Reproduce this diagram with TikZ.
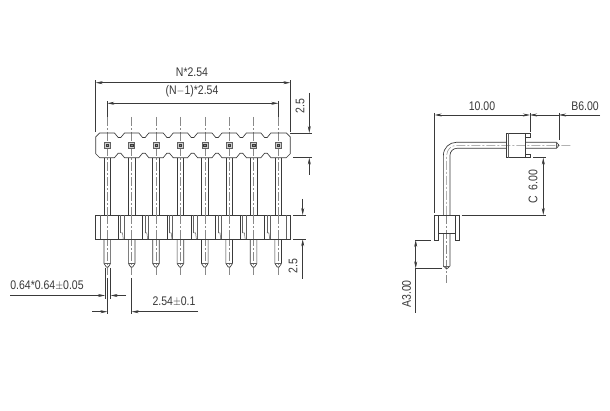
\documentclass[tikz,border=0pt]{standalone}
\usepackage{fontspec}
\usepackage{graphicx}
\setmainfont{Liberation Sans}
\usetikzlibrary{arrows.meta}
\definecolor{ink}{HTML}{3A3A3A}
\tikzset{
  obj/.style={draw=ink,line width=0.65pt},
  thin obj/.style={draw=ink!80,line width=0.5pt},
  dimline/.style={draw=ink,line width=0.55pt},
  center line/.style={draw=ink!60,line width=0.5pt,dash pattern=on 9pt off 2pt on 2pt off 2pt},
  dimarrow/.style={-{Stealth[length=7pt,width=3pt]}},
  lbl/.style={inner sep=0pt,text=ink,font=\fontsize{12.5}{13}\selectfont},
}
\newcommand{\txt}[1]{\scalebox{0.84}[1]{#1}}
\begin{document}
\begin{tikzpicture}[x=1pt,y=-1pt]
\useasboundingbox[fill=white] (0,0) rectangle (610,411);
% ---------- front view: pins
\foreach \p in {107.3,131.7,156,180.4,204.8,229.2,253.6,278.2}{
  \draw[center line] (\p,117) -- (\p,275);
  \draw[obj] (\p-3.3,157.7) -- (\p-3.3,215) (\p+3.3,157.7) -- (\p+3.3,215);
  \draw[obj] (\p-3.3,239.3) -- (\p-3.3,263.5) -- (\p-1,267) -- (\p+1,267) -- (\p+3.3,263.5) -- (\p+3.3,239.3);
  \draw[thin obj] (\p-3.3,263.5) -- (\p+3.3,263.5);
  \draw[thin obj,fill=ink!25] (\p-3,142) rectangle (\p+3,148);
  \draw[ink,fill=ink!60,line width=0.3pt] (\p-1.2,143.8) rectangle (\p+1.2,146.2);
}
% upper body with notches
\draw[obj,fill=none] (95.7,137) -- (99.7,133)
  \foreach \m in {119.5,143.85,168.2,192.6,217,241.4,265.9}{
    -- (\m-5,133) -- (\m-1.3,137.5) -- (\m+1.3,137.5) -- (\m+5,133)
  }
  -- (286.3,133) -- (290.3,137) -- (290.3,153.7) -- (286.3,157.7)
  \foreach \m in {265.9,241.4,217,192.6,168.2,143.85,119.5}{
    -- (\m+5,157.7) -- (\m+1.3,153.2) -- (\m-1.3,153.2) -- (\m-5,157.7)
  }
  -- (99.7,157.7) -- (95.7,153.7) -- cycle;
% lower body
\draw[obj,fill=white] (95.7,215) rectangle (290.3,239.3);
\draw[thin obj] (100,215) -- (100,239.3) (286.5,215) -- (286.5,239.3);
\foreach \b in {119.5,143.85,168.2,192.6,217,241.4,265.9}{
  \draw[obj] (\b-1.2,215) -- (\b-1.2,239.3);
  \draw[thin obj] (\b+1,215) -- (\b+1,233);
  \draw[thin obj] (\b+1,233) -- (\b+3,233) -- (\b+3.8,239.3);
  \draw[thin obj] (\b+4.5,215) -- (\b+4.5,239.3);
}
\foreach \p in {107.3,131.7,156,180.4,204.8,229.2,253.6,278.2}{
  \draw[center line] (\p,215) -- (\p,239.3);
}
% ---------- front view: dimensions
\draw[dimline] (95.7,132) -- (95.7,80) (290.3,132) -- (290.3,80);
\draw[dimline,{Stealth[length=7pt,width=3pt]}-{Stealth[length=7pt,width=3pt]}] (95.7,82.7) -- (290.3,82.7);
\node[lbl] (n254) at (192,72) {\txt{N*2.54}};
\draw[dimline] (107.3,117) -- (107.3,101) (278.2,117) -- (278.2,101);
\draw[dimline,{Stealth[length=7pt,width=3pt]}-{Stealth[length=7pt,width=3pt]}] (107.3,103.3) -- (278.2,103.3);
\node[lbl] (n1254) at (192,91) {\txt{(N$-$1)*2.54}};
\draw[dimline] (290.3,133) -- (312,133) (293,157.7) -- (312,157.7);
\draw[dimline,dimarrow] (309.3,93) -- (309.3,133);
\draw[dimline,dimarrow] (309.3,175) -- (309.3,157.7);
\node[lbl,rotate=90] (d25a) at (300,106) {\txt{2.5}};
\draw[dimline] (293,215) -- (306,215) (293,239.3) -- (306,239.3);
\draw[dimline,dimarrow] (302.7,199) -- (302.7,215);
\draw[dimline,dimarrow] (302.7,279) -- (302.7,239.3);
\node[lbl,rotate=90] (d25b) at (293,266) {\txt{2.5}};
\draw[dimline] (105,268) -- (105,299) (110.7,268) -- (110.7,299);
\draw[dimline,dimarrow] (10,295.5) -- (105,295.5);
\draw[dimline,dimarrow] (126,295.5) -- (110.7,295.5);
\node[lbl] (d064) at (47,286) {\txt{0.64*0.64$\pm$0.05}};
\draw[dimline] (107.3,278) -- (107.3,314) (131.7,278) -- (131.7,314);
\draw[dimline,dimarrow] (92,311.7) -- (107.3,311.7);
\draw[dimline,dimarrow] (198,311.7) -- (131.7,311.7);
\node[lbl] (d254) at (174,302) {\txt{2.54$\pm$0.1}};
% ---------- side view: pin
\draw[center line] (446.7,215) -- (446.7,155.3) .. controls (446.7,149.8) and (451.2,145.3) .. (456.7,145.3) -- (571.7,145.3);
\draw[center line] (446.7,215) -- (446.7,282.7);
\draw[obj] (443.4,215) -- (443.4,155.3) .. controls (443.4,148) and (449.2,142.3) .. (456.4,142.3) -- (506,142.3);
\draw[obj] (450,215) -- (450,155.3) .. controls (450,151.5) and (453.1,148.3) .. (457,148.3) -- (506,148.3);
\draw[obj] (525,142.3) -- (556.5,142.3) -- (559,145.3) -- (556.5,148.3) -- (525,148.3);
\draw[thin obj] (556.5,142.3) -- (556.5,148.3);
% plastic, horizontal
\draw[obj] (525,137.7) -- (530.7,137.7) -- (530.7,133.3) -- (506,133.3) -- (506,157.7) -- (530.7,157.7) -- (530.7,154.3) -- (525,154.3);
\draw[obj] (525,133.3) -- (525,157.7);
\draw[thin obj] (508.3,133.3) -- (508.3,157.7);
% plastic, vertical
\draw[obj] (434.3,215) -- (459,215);
\draw[obj] (434.3,215) -- (434.3,240) -- (438.3,240) -- (438.3,215);
\draw[obj] (459,215) -- (459,240) -- (455.7,240) -- (455.7,215);
\draw[obj] (438.3,233.3) -- (455.7,233.3);
\draw[obj] (443.4,233.3) -- (443.4,266) -- (446.7,269) -- (450,266) -- (450,233.3);
\draw[thin obj] (443.4,266) -- (450,266);
% ---------- side view: dimensions
\draw[dimline] (434.7,113) -- (434.7,213);
\draw[dimline] (530,113) -- (530,132) (559,113) -- (559,140);
\draw[dimline,{Stealth[length=7pt,width=3pt]}-{Stealth[length=7pt,width=3pt]}] (434.7,115) -- (530,115);
\draw[dimline,dimarrow] (541,115) -- (530,115);
\draw[dimline,dimarrow] (600,115) -- (559,115);
\draw[dimline] (541,115) -- (559,115);
\node[lbl] (d10) at (482,106) {\txt{10.00}};
\node[lbl] (db6) at (585,106) {\txt{B6.00}};
\draw[dimline] (533,157.7) -- (546,157.7) (461.7,215) -- (546,215);
\draw[dimline,{Stealth[length=7pt,width=3pt]}-{Stealth[length=7pt,width=3pt]}] (543.3,157.7) -- (543.3,215);
\node[lbl,rotate=90] (dc6) at (533,186.5) {\txt{C\ \ 6.00}};
\draw[dimline] (415,240) -- (430.7,240) (415,268.3) -- (441.7,268.3);
\draw[dimline,{Stealth[length=7pt,width=3pt]}-] (415.7,240) -- (415.7,254);
\draw[dimline,{Stealth[length=7pt,width=3pt]}-] (415.7,268.3) -- (415.7,254);
\draw[dimline] (415.7,268.3) -- (415.7,312.7);
\node[lbl,rotate=90] (da3) at (406.5,294) {\txt{A3.00}};
\end{tikzpicture}
\end{document}
